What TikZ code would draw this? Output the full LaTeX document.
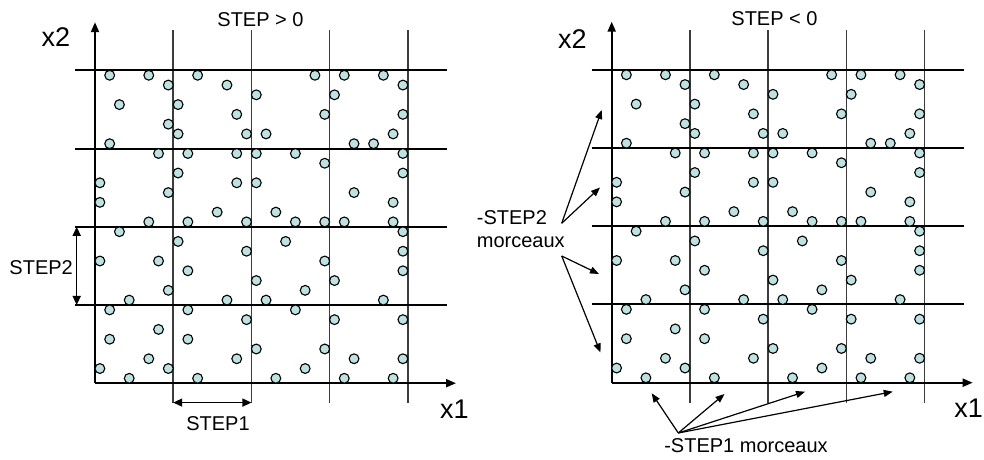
\documentclass[tikz,border=0pt]{standalone}
\usepackage{fontspec}
\setmainfont{Liberation Sans}
\usetikzlibrary{arrows.meta}

\definecolor{dotfill}{RGB}{190,226,226}
\definecolor{vgray}{RGB}{60,60,60}

% lattice step of the point grid (8 steps per cell)
\def\u{9.775}

\tikzset{
  hline/.style={line width=2bp, black},
  vline/.style={line width=1.5bp, vgray},
  axis/.style={line width=2bp, black, -{Triangle[length=10bp,width=8bp]}},
  dimarrow/.style={line width=1.5bp, black, {Triangle[length=9bp,width=8bp]}-{Triangle[length=9bp,width=8bp]}},
  pointer/.style={line width=1.2bp, black, -{Triangle[length=9bp,width=7bp]}},
  dot/.style={draw=black, line width=1.1bp, fill=dotfill},
  small/.style={font=\fontsize{20bp}{24bp}\selectfont, inner sep=0pt},
  big/.style={font=\fontsize{27bp}{31bp}\selectfont, inner sep=0pt},
}

% one panel: grid lines, axes and the scattered points
\newcommand\gridpanel{%
  \foreach \k in {1,...,4}
    \draw[vline] ({\k*8*\u},-20) -- ({\k*8*\u},353);
  \foreach \k in {1,...,4}
    \draw[hline] (-20,{\k*8*\u}) -- (352,{\k*8*\u});
  \draw[axis] (0,0) -- (361,0);
  \draw[axis] (0,0) -- (0,361);
  \foreach \r/\cols in {
      0/{1,5,10,22,25,29}, 1/{7,13,31}, 2/{16,24}, 3/{2,8},
      4/{14,23,31}, 5/{7}, 6/{8,15,17,30}, 7/{1,26,28},
      8/{6,9,14,16,20,31}, 9/{23}, 10/{8,31}, 11/{0,14,16},
      12/{7,26}, 13/{0,30}, 14/{12,18}, 15/{5,9,15,20,23,25,30},
      16/{2,31}, 17/{8,19}, 18/{15,31}, 19/{0,6,23},
      20/{9,31}, 21/{16,24}, 22/{7,21}, 23/{3,13,17,29},
      24/{1,9,20}, 25/{15,24,31}, 26/{6}, 27/{1,9},
      28/{16,23}, 29/{5,14,26,31}, 30/{0,7,21}, 31/{3,10,18,25,30}}{
    \foreach \c in \cols
      \path[dot] ({(\c+0.5)*\u},{(31.5-\r)*\u}) circle (4.9);
  }%
}

\begin{document}
\begin{tikzpicture}[x=1bp,y=1bp]
\useasboundingbox (0,0) rectangle (984,460);

% ---------- left panel: STEP > 0 ----------
\begin{scope}[shift={(95,76.8)}]
  \gridpanel
  \coordinate (s2top) at (-18.3,{16*\u});
  \coordinate (s2bot) at (-18.3,{8*\u});
  \coordinate (s1lft) at ({8*\u},-19.4);
  \coordinate (s1rgt) at ({16*\u},-19.4);
\end{scope}
\draw[dimarrow] (s2top) -- (s2bot);
\draw[dimarrow] (s1lft) -- (s1rgt);

\node[big] (x2a) at (56,422.5) {x2};
\node[big] (x1a) at (454.3,51) {x1};
\node[small] (titlea) at (260.5,440) {STEP > 0};
\node[small, anchor=east] (step2) at (73,192.5) {STEP2};
\node[small] (step1) at (218,36.7) {STEP1};

% ---------- right panel: STEP < 0 ----------
\begin{scope}[shift={(611.7,77.3)}]
  \gridpanel
\end{scope}

\node[big] (x2b) at (572.5,421) {x2};
\node[big] (x1b) at (968.5,52) {x1};
\node[small] (titleb) at (774.5,441) {STEP < 0};

\node[small, anchor=base west] (mA) at (476.7,235) {-STEP2};
\node[small, anchor=base west] (mB) at (476.7,212) {morceaux};
\node[small] (mC) at (746,14) {-STEP1 morceaux};

\coordinate (oA) at (561.7,236.7);
\coordinate (oB) at (561.7,204);
\coordinate (oC) at (678.3,27);

\coordinate (pA1) at (601.7,350);
\coordinate (pA2) at (600,272.5);
\coordinate (pB1) at (599,186);
\coordinate (pB2) at (600.5,107.5);
\coordinate (pC1) at (651.7,66.7);
\coordinate (pC2) at (724.5,66);
\coordinate (pC3) at (805,68.3);
\coordinate (pC4) at (892.7,68.3);

\draw[pointer] (oA) -- (pA1);
\draw[pointer] (oA) -- (pA2);
\draw[pointer] (oB) -- (pB1);
\draw[pointer] (oB) -- (pB2);
\foreach \t in {pC1,pC2,pC3,pC4}
  \draw[pointer] (oC) -- (\t);
\end{tikzpicture}
\end{document}
